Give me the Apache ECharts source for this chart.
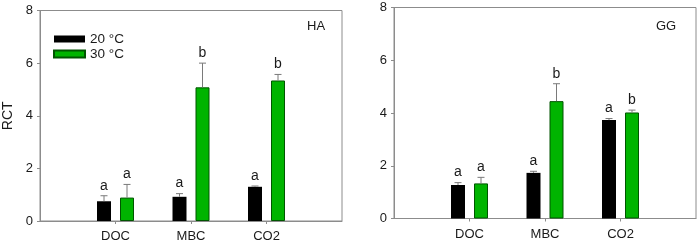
<!DOCTYPE html>
<html>
<head>
<meta charset="utf-8">
<script src="https://cdn.jsdelivr.net/npm/echarts@6/dist/echarts.min.js"></script>
<style>
html,body{margin:0;padding:0;background:#fff;}
#c{width:699px;height:245px;}
</style>
</head>
<body>
<div id="c"></div>
<script>
// ---- data ----
const categories = ['DOC', 'MBC', 'CO2'];
const seriesNames = ['20 °C', '30 °C'];
const panelLabels = ['HA', 'GG'];
const yTicks = [0, 2, 4, 6, 8];

const haMean20 = [0.75, 0.92, 1.30];
const haErr20  = [0.21, 0.12, 0.03];
const haMean30 = [0.89, 5.08, 5.34];
const haErr30  = [0.50, 0.92, 0.23];
const haLetters20 = ['a', 'a', 'a'];
const haLetters30 = ['a', 'b', 'b'];

const ggMean20 = [1.27, 1.73, 3.73];
const ggErr20  = [0.09, 0.06, 0.06];
const ggMean30 = [1.33, 4.45, 4.02];
const ggErr30  = [0.23, 0.66, 0.09];
const ggLetters20 = ['a', 'a', 'a'];
const ggLetters30 = ['a', 'b', 'b'];

// ---- layout / style ----
const BAR_W = 14, GAP_PX = 9;
const OFF = (BAR_W + GAP_PX) / 2;
const FONT = 'Liberation Sans, Arial, sans-serif';
const AXIS_COL = '#8c8c8c';
const GREEN = '#00b400';

const xCats = [''].concat(categories, ['']);
function pad(arr) { return [null].concat(arr, [null]); }

function makeX(gi) {
  return {
    type: 'category', gridIndex: gi, data: xCats, boundaryGap: false,
    axisLine: { show: true, lineStyle: { color: AXIS_COL, width: 1 } },
    axisTick: { show: true, length: 3, inside: false, alignWithLabel: true,
      interval: function (i) { return i > 0 && i < xCats.length - 1; },
      lineStyle: { color: AXIS_COL } },
    axisLabel: { fontSize: 13, color: '#1a1a1a', fontFamily: FONT, margin: 9,
      interval: 0 },
    splitLine: { show: false }
  };
}
function makeY(gi, name) {
  return {
    type: 'value', gridIndex: gi, min: yTicks[0], max: yTicks[yTicks.length - 1], interval: 2,
    name: name, nameLocation: 'middle', nameRotate: 90, nameGap: 25,
    nameTextStyle: { fontSize: 14, color: '#1a1a1a', fontFamily: FONT },
    axisLine: { show: true, lineStyle: { color: AXIS_COL, width: 1 } },
    axisTick: { show: true, length: 3, inside: false, lineStyle: { color: AXIS_COL } },
    axisLabel: { fontSize: 13, color: '#1a1a1a', fontFamily: FONT, margin: 7 },
    splitLine: { show: false }
  };
}

function barSeries(gi, name, values, color, border) {
  return {
    type: 'bar', name: name, xAxisIndex: gi, yAxisIndex: gi,
    data: pad(values), barWidth: BAR_W, barGap: (GAP_PX / BAR_W * 100) + '%',
    itemStyle: { color: color, borderColor: border, borderWidth: border ? 1 : 0 },
    emphasis: { disabled: true }, animation: false, z: 2
  };
}

function errSeries(gi, means, errs, letters, side) {
  const data = means.map((m, i) => [i + 1, m, m + errs[i]]);
  return {
    type: 'custom', xAxisIndex: gi, yAxisIndex: gi, animation: false, silent: true, z: 3,
    data: data,
    renderItem: function (params, api) {
      const x = api.coord([api.value(0), api.value(1)])[0] + side * OFF;
      const yb = api.coord([api.value(0), api.value(1)])[1];
      const yt = api.coord([api.value(0), api.value(2)])[1];
      const ls = { stroke: '#7a7a7a', lineWidth: 1 };
      return {
        type: 'group',
        children: [
          { type: 'line', shape: { x1: x, y1: yb, x2: x, y2: yt }, style: ls },
          { type: 'line', shape: { x1: x - 3.5, y1: yt, x2: x + 3.5, y2: yt }, style: ls },
          { type: 'text', x: x, y: yt - 3,
            style: { text: letters[params.dataIndex], fontSize: 14, fontFamily: FONT,
              fill: '#1a1a1a', align: 'center', verticalAlign: 'bottom' } }
        ]
      };
    }
  };
}

const chart = echarts.init(document.getElementById('c'), null, { renderer: 'canvas' });
chart.setOption({
  animation: false,
  backgroundColor: '#fff',
  grid: [
    { left: 38, top: 10.5, width: 304, height: 210.5, show: true, borderColor: AXIS_COL, borderWidth: 1, backgroundColor: 'transparent' },
    { left: 394, top: 7.5, width: 303, height: 211, show: true, borderColor: AXIS_COL, borderWidth: 1, backgroundColor: 'transparent' }
  ],
  legend: {
    data: seriesNames, orient: 'vertical', left: 48, top: 26.5,
    itemWidth: 31, itemHeight: 7, itemGap: 0, icon: 'rect',
    textStyle: { fontSize: 13.5, lineHeight: 15, color: '#1a1a1a', fontFamily: FONT },
    selectedMode: false
  },
  graphic: [
    { type: 'text', left: 307, top: 20, style: { text: panelLabels[0], fontSize: 13, fontFamily: FONT, fill: '#1a1a1a' } },
    { type: 'text', left: 656, top: 20, style: { text: panelLabels[1], fontSize: 13, fontFamily: FONT, fill: '#1a1a1a' } }
  ],
  xAxis: [makeX(0), makeX(1)],
  yAxis: [makeY(0, 'RCT'), makeY(1, '')],
  series: [
    barSeries(0, seriesNames[0], haMean20, '#000', null),
    barSeries(0, seriesNames[1], haMean30, GREEN, '#005500'),
    errSeries(0, haMean20, haErr20, haLetters20, -1),
    errSeries(0, haMean30, haErr30, haLetters30, 1),
    barSeries(1, seriesNames[0], ggMean20, '#000', null),
    barSeries(1, seriesNames[1], ggMean30, GREEN, '#005500'),
    errSeries(1, ggMean20, ggErr20, ggLetters20, -1),
    errSeries(1, ggMean30, ggErr30, ggLetters30, 1)
  ]
});
</script>
</body>
</html>
